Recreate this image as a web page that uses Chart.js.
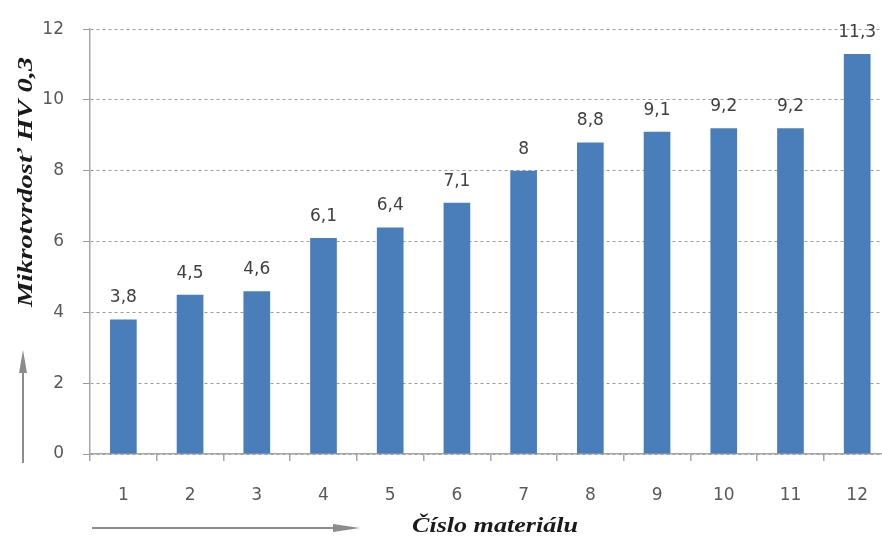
<!DOCTYPE html>
<html>
<head>
<meta charset="utf-8">
<script src="https://cdn.jsdelivr.net/npm/chart.js@4.4.1/dist/chart.umd.min.js"></script>
<style>
    html, body { margin: 0; padding: 0; background: #fff; overflow: hidden; }
    #graf { display: block; }
</style>
</head>
<body>
<canvas id="graf" width="892" height="542"></canvas>
<script>
// hodnoty z obrazku
const cislaMaterialu = ['1', '2', '3', '4', '5', '6', '7', '8', '9', '10', '11', '12'];
const mikrotvrdost = [3.8, 4.5, 4.6, 6.1, 6.4, 7.1, 8, 8.8, 9.1, 9.2, 9.2, 11.3];
const osaY = [0, 2, 4, 6, 8, 10, 12];

const titulokY = 'Mikrotvrdosť HV 0,3';
const titulokX = 'Číslo materiálu';

const sedaOs = '#a6a6a6';
const sedyText = '#595959';
const modra = '#4a7ebb';

// popisky nad stlpcami
const popiskyPlugin = {
    id: 'popisky',
    afterDatasetsDraw(chart) {
        const ctx = chart.ctx;
        const meta = chart.getDatasetMeta(0);
        ctx.save();
        ctx.font = '17px "DejaVu Sans"';
        ctx.fillStyle = '#404040';
        ctx.textAlign = 'center';
        ctx.textBaseline = 'alphabetic';
        meta.data.forEach(function(bar, i) {
            const text = String(mikrotvrdost[i]).replace('.', ',');
            ctx.fillText(text, bar.x, bar.y - 17);
        });
        ctx.restore();
    }
};

// nazvy osi a sipky
function natiahnutyText(ctx, text, x, y, sirka) {
    const w = ctx.measureText(text).width;
    ctx.save();
    ctx.translate(x, y);
    ctx.scale(sirka / w, 1);
    ctx.fillText(text, 0, 0);
    ctx.restore();
}

const nazvyPlugin = {
    id: 'nazvy',
    afterDraw(chart) {
        const ctx = chart.ctx;
        ctx.save();

        // sipky
        ctx.strokeStyle = '#8c8c8c';
        ctx.fillStyle = '#8c8c8c';
        ctx.lineWidth = 2;
        ctx.beginPath();
        ctx.moveTo(23, 463);
        ctx.lineTo(23, 370);
        ctx.stroke();
        ctx.beginPath();
        ctx.moveTo(23, 350);
        ctx.lineTo(19, 373);
        ctx.lineTo(27, 373);
        ctx.closePath();
        ctx.fill();

        ctx.beginPath();
        ctx.moveTo(92, 528);
        ctx.lineTo(336, 528);
        ctx.stroke();
        ctx.beginPath();
        ctx.moveTo(360, 528);
        ctx.lineTo(333, 524);
        ctx.lineTo(333, 532);
        ctx.closePath();
        ctx.fill();

        // texty
        ctx.fillStyle = '#1a1a1a';
        ctx.font = 'italic bold 22px "Liberation Serif"';
        ctx.textAlign = 'left';
        ctx.textBaseline = 'alphabetic';
        natiahnutyText(ctx, titulokX, 412, 532, 166);

        ctx.save();
        ctx.translate(32, 307);
        ctx.rotate(-Math.PI / 2);
        natiahnutyText(ctx, titulokY, 0, 0, 250);
        ctx.restore();

        ctx.restore();
    }
};

new Chart(document.getElementById('graf'), {
    type: 'bar',
    data: {
        labels: cislaMaterialu,
        datasets: [{
            data: mikrotvrdost,
            backgroundColor: modra,
            borderWidth: 0,
            barPercentage: 0.4,
            categoryPercentage: 1
        }]
    },
    options: {
        responsive: false,
        animation: false,
        layout: { padding: { top: 22, left: 0, right: 0, bottom: 0 } },
        plugins: {
            legend: { display: false },
            tooltip: { enabled: false }
        },
        scales: {
            x: {
                afterFit: function(scale) { scale.height = 88; },
                grid: {
                    drawOnChartArea: false,
                    drawTicks: true,
                    tickLength: 7,
                    color: sedaOs,
                    lineWidth: 1.5
                },
                border: { color: sedaOs, width: 1.5 },
                ticks: {
                    color: sedyText,
                    font: { family: 'DejaVu Sans', size: 17 },
                    padding: 24,
                    maxRotation: 0
                }
            },
            y: {
                min: 0,
                max: 12,
                afterFit: function(scale) { scale.width = 90; },
                afterBuildTicks: function(scale) {
                    scale.ticks = osaY.map(v => ({ value: v }));
                },
                grid: {
                    color: '#9a9a9a',
                    lineWidth: 1,
                    tickLength: 7
                },
                border: { color: sedaOs, width: 1.5, dash: [3, 3] },
                ticks: {
                    color: sedyText,
                    font: { family: 'DejaVu Sans', size: 17 },
                    padding: 19
                }
            }
        }
    },
    plugins: [popiskyPlugin, nazvyPlugin]
});
</script>
</body>
</html>
